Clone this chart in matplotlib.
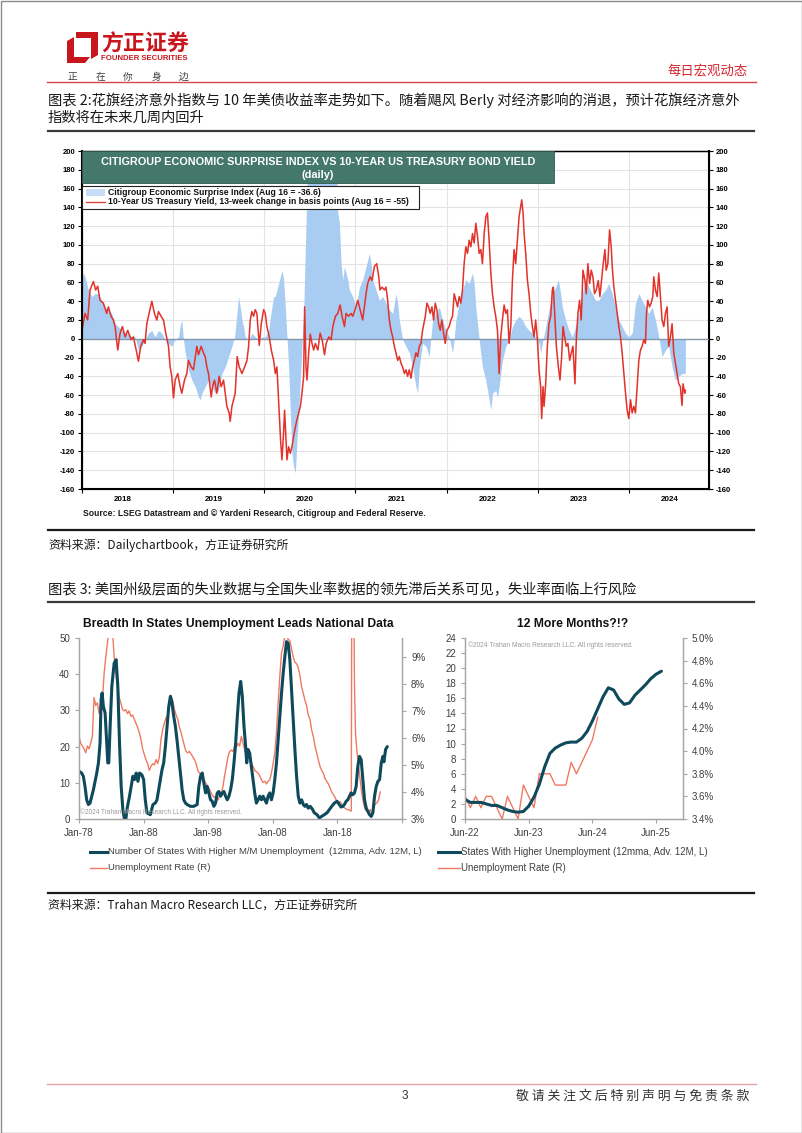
import matplotlib
matplotlib.use("Agg")
import matplotlib.pyplot as plt
from matplotlib.patches import Rectangle, Polygon
from matplotlib.lines import Line2D
import numpy as np

plt.rcParams['axes.unicode_minus'] = False

W, H = 802, 1133
CJK = ['Noto Sans CJK SC', 'DejaVu Sans']
SANS = ['Liberation Sans', 'DejaVu Sans']

# ---- chart 1: 10y yield 13-week change (bp), (decimal year, value)
yield_chg = [
    (2018.000, 9), (2018.033, 27), (2018.062, 20), (2018.088, 52), (2018.125, 61), (2018.150, 52),
    (2018.172, 56), (2018.198, 41), (2018.234, 38), (2018.271, 27), (2018.289, 34), (2018.319, 24),
    (2018.344, 20), (2018.363, 13), (2018.392, -12), (2018.418, 6), (2018.443, 13), (2018.473, 2),
    (2018.502, 9), (2018.538, -1), (2018.564, 2), (2018.601, -15), (2018.619, -24), (2018.645, -8),
    (2018.674, -1), (2018.692, -5), (2018.711, 16), (2018.736, 27), (2018.766, 40), (2018.795, 27),
    (2018.821, 20), (2018.839, 29), (2018.868, 24), (2018.894, 20), (2018.919, 6), (2018.949, -8),
    (2018.967, -30), (2018.985, -40), (2019.004, -63), (2019.022, -44), (2019.051, -37), (2019.077, -51),
    (2019.095, -58), (2019.125, -44), (2019.150, -37), (2019.168, -23), (2019.198, -30), (2019.223, -33),
    (2019.260, -8), (2019.278, -17), (2019.308, -8), (2019.333, -15), (2019.352, -19), (2019.370, -30),
    (2019.388, -37), (2019.418, -62), (2019.432, -51), (2019.454, -44), (2019.480, -58), (2019.505, -40),
    (2019.527, -51), (2019.553, -44), (2019.571, -58), (2019.590, -72), (2019.615, -79), (2019.626, -88),
    (2019.645, -72), (2019.663, -65), (2019.681, -58), (2019.703, -19), (2019.725, -30), (2019.755, -37),
    (2019.784, -30), (2019.810, -23), (2019.828, -8), (2019.846, 20), (2019.864, 29), (2019.883, 24),
    (2019.901, 31), (2019.919, 27), (2019.930, 13), (2019.945, -7), (2019.967, 16), (2019.993, 31),
    (2020.011, 27), (2020.029, 13), (2020.055, 2), (2020.077, -12), (2020.103, -23), (2020.121, -37),
    (2020.139, -30), (2020.150, -51), (2020.165, -79), (2020.179, -108), (2020.194, -129), (2020.212, -100),
    (2020.223, -76), (2020.238, -108), (2020.249, -129), (2020.267, -115), (2020.286, -122), (2020.304, -115),
    (2020.322, -104), (2020.341, -94), (2020.359, -86), (2020.377, -79), (2020.396, -72), (2020.414, -58),
    (2020.432, -40), (2020.443, 34), (2020.458, -30), (2020.469, -44), (2020.487, -15), (2020.505, 5),
    (2020.524, -5), (2020.542, -12), (2020.560, -5), (2020.588, -12), (2020.613, 6), (2020.635, -1),
    (2020.661, -17), (2020.679, -5), (2020.708, 2), (2020.734, -1), (2020.752, 13), (2020.781, 24),
    (2020.807, 27), (2020.832, 36), (2020.854, 24), (2020.880, 13), (2020.898, 27), (2020.927, 24),
    (2020.953, 27), (2020.971, 24), (2021.000, 32), (2021.026, 41), (2021.044, 34), (2021.062, 27),
    (2021.080, 20), (2021.099, 34), (2021.117, 48), (2021.135, 59), (2021.161, 66), (2021.183, 62),
    (2021.208, 77), (2021.234, 80), (2021.256, 66), (2021.270, 52), (2021.292, 55), (2021.318, 52),
    (2021.336, 55), (2021.354, 41), (2021.372, 20), (2021.391, 9), (2021.409, 2), (2021.427, -8),
    (2021.445, -15), (2021.464, -23), (2021.482, -19), (2021.500, -26), (2021.518, -30), (2021.537, -37),
    (2021.555, -33), (2021.573, -40), (2021.591, -33), (2021.610, -42), (2021.628, -30), (2021.646, -23),
    (2021.664, -15), (2021.683, -19), (2021.701, -8), (2021.719, -5), (2021.737, 9), (2021.767, 24),
    (2021.785, 38), (2021.803, 34), (2021.821, 27), (2021.840, 34), (2021.858, 20), (2021.876, 38),
    (2021.894, 31), (2021.913, 16), (2021.931, 9), (2021.949, 20), (2021.967, 6), (2021.986, -5),
    (2022.004, 9), (2022.029, 13), (2022.048, 20), (2022.066, 24), (2022.084, 48), (2022.102, 41),
    (2022.121, 34), (2022.139, 45), (2022.157, 38), (2022.175, 52), (2022.193, 80), (2022.212, 98),
    (2022.230, 91), (2022.248, 105), (2022.267, 98), (2022.285, 112), (2022.303, 102), (2022.321, 123),
    (2022.340, 109), (2022.358, 91), (2022.376, 95), (2022.394, 80), (2022.413, 112), (2022.431, 130),
    (2022.449, 134), (2022.467, 105), (2022.486, 70), (2022.504, 48), (2022.522, 34), (2022.540, 24),
    (2022.559, 9), (2022.577, -37), (2022.595, 2), (2022.613, 20), (2022.632, 36), (2022.650, 27),
    (2022.668, 31), (2022.686, -5), (2022.705, 13), (2022.723, 63), (2022.741, 95), (2022.759, 80),
    (2022.778, 105), (2022.796, 130), (2022.814, 141), (2022.825, 148), (2022.840, 134), (2022.851, 112),
    (2022.869, 91), (2022.887, 63), (2022.905, 48), (2022.924, 27), (2022.942, 13), (2022.960, 2),
    (2022.978, 20), (2022.997, -1), (2023.015, -33), (2023.033, -51), (2023.044, -85), (2023.059, -51),
    (2023.070, -72), (2023.088, -48), (2023.106, -8), (2023.124, 16), (2023.143, 24), (2023.161, 52),
    (2023.172, 55), (2023.190, 20), (2023.205, -8), (2023.227, -30), (2023.245, -44), (2023.263, -19),
    (2023.278, 13), (2023.296, 2), (2023.314, -8), (2023.332, -5), (2023.351, -23), (2023.369, -15),
    (2023.387, -8), (2023.409, -48), (2023.424, -1), (2023.442, 27), (2023.460, 41), (2023.478, 20),
    (2023.497, 73), (2023.519, 62), (2023.533, 48), (2023.551, 80), (2023.570, 59), (2023.588, 73),
    (2023.606, 66), (2023.624, 48), (2023.643, 52), (2023.665, 62), (2023.683, 45), (2023.701, 62),
    (2023.719, 80), (2023.738, 95), (2023.752, 73), (2023.770, 80), (2023.789, 116), (2023.807, 98),
    (2023.818, 77), (2023.836, 55), (2023.854, 41), (2023.873, 27), (2023.891, 13), (2023.909, 2),
    (2023.927, -15), (2023.946, -37), (2023.964, -58), (2023.982, -76), (2024.000, -85), (2024.019, -65),
    (2024.037, -79), (2024.055, -72), (2024.073, -79), (2024.092, -51), (2024.110, -23), (2024.128, -12),
    (2024.146, -8), (2024.165, -1), (2024.183, -5), (2024.194, 27), (2024.208, 41), (2024.227, 34),
    (2024.245, 38), (2024.263, 45), (2024.274, 66), (2024.292, 52), (2024.311, 45), (2024.329, 70),
    (2024.347, 45), (2024.365, 20), (2024.384, 13), (2024.402, 27), (2024.420, 34), (2024.438, -8),
    (2024.457, 2), (2024.475, 16), (2024.493, -15), (2024.511, -26), (2024.530, -37), (2024.548, -48),
    (2024.566, -51), (2024.584, -71), (2024.595, -48), (2024.614, -58), (2024.621, -55),
]

# ---- chart 1: Citigroup Economic Surprise Index
cesi = [
    (2018.000, 63), (2018.015, 70), (2018.033, 66), (2018.070, 52), (2018.106, 45), (2018.143, 48),
    (2018.179, 48), (2018.216, 41), (2018.253, 34), (2018.289, 31), (2018.326, 27), (2018.363, 16),
    (2018.399, 13), (2018.436, 9), (2018.473, 6), (2018.509, 6), (2018.546, 2), (2018.582, 2),
    (2018.619, -12), (2018.656, -8), (2018.692, -1), (2018.729, 6), (2018.766, 9), (2018.802, 2),
    (2018.839, 9), (2018.875, 6), (2018.912, -1), (2018.949, -5), (2018.985, -8), (2019.022, -1),
    (2019.059, 2), (2019.081, 16), (2019.095, 20), (2019.110, 2), (2019.132, -15), (2019.168, -33),
    (2019.205, -44), (2019.242, -51), (2019.278, -62), (2019.297, -65), (2019.315, -58), (2019.352, -51),
    (2019.388, -44), (2019.425, -51), (2019.462, -58), (2019.498, -55), (2019.535, -37), (2019.571, -30),
    (2019.608, -19), (2019.645, -8), (2019.674, 2), (2019.700, 27), (2019.718, 45), (2019.736, 34),
    (2019.755, 20), (2019.773, 13), (2019.791, 2), (2019.828, -1), (2019.864, 6), (2019.901, 2),
    (2019.938, -1), (2019.974, 2), (2020.011, 2), (2020.048, 9), (2020.084, 34), (2020.103, 45),
    (2020.121, 45), (2020.139, 52), (2020.158, 59), (2020.176, 66), (2020.194, 73), (2020.212, 63),
    (2020.231, 34), (2020.249, 2), (2020.267, -30), (2020.286, -79), (2020.304, -122), (2020.322, -136),
    (2020.341, -143), (2020.359, -108), (2020.377, -79), (2020.396, -44), (2020.414, -8), (2020.432, 27),
    (2020.451, 98), (2020.469, 160), (2020.487, 230), (2020.600, 250), (2020.700, 220), (2020.788, 200),
    (2020.807, 134), (2020.825, 123), (2020.843, 80), (2020.861, 63), (2020.880, 77), (2020.898, 70),
    (2020.916, 63), (2020.934, 52), (2020.971, 45), (2021.007, 34), (2021.044, 55), (2021.080, 63),
    (2021.117, 77), (2021.153, 91), (2021.172, 80), (2021.190, 63), (2021.226, 52), (2021.263, 41),
    (2021.299, 45), (2021.336, 38), (2021.372, 31), (2021.409, 27), (2021.445, 48), (2021.464, 38),
    (2021.482, 20), (2021.518, -1), (2021.555, -8), (2021.591, -15), (2021.628, -30), (2021.664, -51),
    (2021.683, -58), (2021.701, -30), (2021.737, -5), (2021.774, -8), (2021.810, -19), (2021.829, 2),
    (2021.847, 20), (2021.883, 27), (2021.920, 34), (2021.956, 20), (2021.993, 9), (2022.029, 2),
    (2022.066, -15), (2022.084, -1), (2022.102, 20), (2022.139, 38), (2022.175, 52), (2022.212, 63),
    (2022.248, 59), (2022.285, 70), (2022.303, 59), (2022.321, 34), (2022.340, 16), (2022.358, -1),
    (2022.394, -30), (2022.431, -44), (2022.467, -65), (2022.486, -76), (2022.504, -58), (2022.540, -55),
    (2022.559, -62), (2022.577, -51), (2022.613, -23), (2022.650, -8), (2022.686, -1), (2022.723, 13),
    (2022.759, 20), (2022.796, 24), (2022.832, 20), (2022.869, 13), (2022.905, 9), (2022.942, 6),
    (2022.978, 2), (2023.015, -5), (2023.033, -15), (2023.051, -5), (2023.088, 13), (2023.124, 31),
    (2023.161, 48), (2023.197, 55), (2023.227, 63), (2023.252, 48), (2023.270, 34), (2023.307, 20),
    (2023.343, 9), (2023.380, 2), (2023.416, 13), (2023.453, 27), (2023.489, 48), (2023.526, 63),
    (2023.562, 55), (2023.599, 48), (2023.635, 41), (2023.672, 41), (2023.708, 48), (2023.745, 52),
    (2023.781, 59), (2023.818, 48), (2023.854, 34), (2023.891, 20), (2023.927, 13), (2023.964, 6),
    (2024.000, 2), (2024.037, 6), (2024.073, 38), (2024.110, 48), (2024.146, 41), (2024.183, 34),
    (2024.219, 27), (2024.256, 34), (2024.292, 20), (2024.329, 2), (2024.365, -19), (2024.402, -12),
    (2024.438, -8), (2024.475, -30), (2024.511, -44), (2024.548, -40), (2024.584, -37), (2024.621, -36.6),
]
years1 = ['2018', '2019', '2020', '2021', '2022', '2023', '2024']

# ---- chart 2 left: states with higher M/M unemployment (adv 12M) and unemployment rate
states_long = [
    (1978.00, 13.2), (1978.41, 12.7), (1978.67, 11.8), (1978.93, 9.0), (1979.19, 5.3), (1979.45, 4.0),
    (1979.71, 4.4), (1979.97, 6.3), (1980.23, 8.1), (1980.49, 10.4), (1980.75, 12.7), (1981.01, 15.5),
    (1981.26, 21.0), (1981.42, 33.0), (1981.58, 34.8), (1981.78, 31.0), (1982.04, 29.3), (1982.30, 21.0),
    (1982.46, 15.5), (1982.61, 15.5), (1982.82, 25.6), (1983.08, 36.6), (1983.44, 43.0), (1983.75, 44.0),
    (1984.01, 36.6), (1984.27, 21.0), (1984.53, 9.0), (1984.79, 2.6), (1985.00, 0.3), (1985.25, 0.0),
    (1985.51, 3.5), (1985.82, 6.3), (1986.08, 9.0), (1986.34, 11.8), (1986.60, 10.9), (1986.86, 12.7),
    (1987.12, 10.4), (1987.38, 12.7), (1987.74, 12.2), (1988.00, 10.9), (1988.26, 5.3), (1988.52, 1.7),
    (1989.04, 1.2), (1989.45, 4.0), (1989.81, 4.4), (1990.07, 5.3), (1990.33, 8.1), (1990.59, 10.9),
    (1990.85, 13.6), (1991.11, 15.5), (1991.37, 20.0), (1991.63, 25.6), (1991.89, 31.0), (1992.15, 33.9),
    (1992.40, 32.0), (1992.66, 28.4), (1992.92, 25.6), (1993.18, 21.7), (1993.44, 17.3), (1993.70, 12.7),
    (1993.96, 8.1), (1994.22, 5.3), (1994.48, 4.4), (1994.74, 4.0), (1995.25, 3.5), (1995.77, 3.5),
    (1996.29, 4.0), (1996.55, 9.0), (1996.81, 11.8), (1997.07, 12.7), (1997.33, 9.9), (1997.59, 7.2),
    (1997.84, 9.0), (1998.10, 7.2), (1998.36, 5.3), (1998.62, 4.9), (1998.88, 3.5), (1999.14, 4.4),
    (1999.40, 7.2), (1999.66, 7.6), (1999.92, 6.3), (2000.18, 7.2), (2000.44, 7.6), (2000.69, 6.3),
    (2000.95, 5.3), (2001.21, 6.3), (2001.47, 8.1), (2001.73, 10.9), (2001.99, 15.5), (2002.25, 21.0),
    (2002.51, 28.4), (2002.77, 34.8), (2003.03, 38.0), (2003.28, 33.9), (2003.54, 25.6), (2003.80, 20.0),
    (2003.96, 15.5), (2004.17, 19.2), (2004.42, 18.2), (2004.68, 14.5), (2004.94, 10.9), (2005.20, 7.2),
    (2005.46, 4.4), (2005.72, 5.3), (2005.98, 6.3), (2006.24, 5.3), (2006.50, 6.3), (2006.76, 5.3),
    (2007.02, 4.4), (2007.27, 6.3), (2007.53, 7.2), (2007.79, 5.3), (2008.05, 7.2), (2008.31, 10.9),
    (2008.57, 15.5), (2008.83, 21.9), (2009.09, 28.4), (2009.35, 34.8), (2009.61, 40.3), (2009.87, 45.0),
    (2010.13, 49.0), (2010.38, 48.6), (2010.64, 44.0), (2010.90, 35.7), (2011.16, 27.4), (2011.42, 19.2),
    (2011.68, 11.8), (2011.94, 6.3), (2012.20, 4.4), (2012.46, 5.3), (2012.72, 4.0), (2012.97, 3.5),
    (2013.23, 4.0), (2013.49, 3.0), (2013.80, 3.5), (2014.17, 2.6), (2014.42, 1.7), (2014.84, 1.2),
    (2015.20, 0.3), (2015.56, 0.7), (2015.98, 1.2), (2016.39, 1.7), (2016.76, 2.6), (2017.12, 3.5),
    (2017.53, 4.4), (2017.95, 4.9), (2018.31, 4.0), (2018.57, 3.3), (2018.83, 3.5), (2019.09, 4.0),
    (2019.35, 4.9), (2019.61, 5.3), (2019.87, 6.3), (2020.12, 7.2), (2020.38, 6.7), (2020.64, 7.2),
    (2020.90, 9.0), (2021.16, 14.5), (2021.42, 17.3), (2021.68, 16.4), (2021.94, 10.9), (2022.20, 5.3),
    (2022.46, 3.0), (2022.72, 2.1), (2022.97, 1.2), (2023.23, 0.7), (2023.49, 1.7), (2023.75, 6.3),
    (2024.01, 9.0), (2024.27, 10.4), (2024.53, 10.9), (2024.79, 15.5), (2025.05, 17.3), (2025.20, 15.8),
    (2025.46, 19.2), (2025.72, 20.0),
]
urate_long = [
    (1978.00, 6.06), (1978.26, 5.80), (1978.52, 5.70), (1978.78, 5.60), (1979.04, 5.45), (1979.30, 5.70),
    (1979.55, 5.60), (1979.81, 5.80), (1980.07, 6.06), (1980.33, 7.50), (1980.59, 7.20), (1980.85, 7.30),
    (1981.11, 6.90), (1981.37, 7.30), (1981.63, 7.40), (1981.89, 8.40), (1982.15, 9.00), (1982.40, 9.50),
    (1982.66, 10.2), (1982.92, 10.4), (1983.18, 10.0), (1983.44, 9.00), (1983.70, 8.40), (1983.96, 7.90),
    (1984.22, 7.50), (1984.48, 7.30), (1984.74, 7.05), (1985.00, 7.00), (1985.25, 7.05), (1985.51, 6.90),
    (1985.77, 7.00), (1986.03, 6.80), (1986.29, 6.85), (1986.55, 6.70), (1986.81, 6.55), (1987.07, 6.40),
    (1987.33, 6.20), (1987.59, 5.95), (1987.84, 5.60), (1988.10, 5.40), (1988.36, 5.20), (1988.62, 5.05),
    (1988.88, 4.80), (1989.14, 4.95), (1989.40, 5.05), (1989.66, 5.00), (1989.92, 5.20), (1990.18, 5.05),
    (1990.44, 5.30), (1990.69, 5.95), (1990.95, 6.30), (1991.21, 6.55), (1991.47, 6.75), (1991.73, 6.80),
    (1991.99, 7.30), (1992.25, 7.55), (1992.51, 7.40), (1992.77, 7.05), (1993.03, 6.85), (1993.28, 6.70),
    (1993.54, 6.40), (1993.80, 6.20), (1994.06, 5.95), (1994.32, 5.70), (1994.58, 5.50), (1994.84, 5.45),
    (1995.10, 5.50), (1995.36, 5.40), (1995.62, 5.30), (1995.88, 5.20), (1996.13, 5.05), (1996.39, 4.80),
    (1996.65, 4.70), (1996.91, 4.60), (1997.17, 4.45), (1997.43, 4.40), (1997.69, 4.30), (1997.95, 4.20),
    (1998.21, 4.10), (1998.47, 3.95), (1998.73, 3.85), (1998.98, 3.80), (1999.24, 3.85), (1999.50, 3.70),
    (1999.76, 3.85), (2000.02, 3.90), (2000.28, 4.20), (2000.54, 4.60), (2000.80, 4.95), (2001.06, 5.30),
    (2001.32, 5.50), (2001.58, 5.55), (2001.84, 5.50), (2002.09, 5.70), (2002.35, 5.65), (2002.61, 5.80),
    (2002.87, 5.70), (2003.13, 6.06), (2003.39, 5.80), (2003.65, 5.55), (2003.91, 5.30), (2004.17, 5.40),
    (2004.42, 5.20), (2004.68, 5.05), (2004.94, 4.95), (2005.20, 4.80), (2005.46, 4.75), (2005.72, 4.70),
    (2005.98, 4.60), (2006.24, 4.45), (2006.50, 4.35), (2006.76, 4.40), (2007.02, 4.30), (2007.27, 4.40),
    (2007.53, 4.45), (2007.79, 4.70), (2008.05, 5.05), (2008.31, 5.45), (2008.57, 6.20), (2008.83, 7.30),
    (2009.09, 8.30), (2009.35, 9.15), (2009.61, 9.40), (2009.87, 9.80), (2010.13, 9.80), (2010.38, 9.65),
    (2010.64, 9.60), (2010.90, 9.30), (2011.16, 9.00), (2011.42, 8.80), (2011.68, 8.75), (2011.94, 8.60),
    (2012.20, 8.30), (2012.46, 7.90), (2012.72, 7.65), (2012.97, 7.40), (2013.23, 7.20), (2013.49, 6.85),
    (2013.75, 6.70), (2014.01, 6.30), (2014.27, 6.06), (2014.53, 5.70), (2014.79, 5.45), (2015.05, 5.20),
    (2015.30, 4.95), (2015.56, 4.80), (2015.82, 4.70), (2016.08, 4.50), (2016.34, 4.40), (2016.60, 4.30),
    (2016.86, 4.15), (2017.12, 4.00), (2017.38, 3.90), (2017.64, 3.80), (2017.90, 3.65), (2018.16, 3.55),
    (2018.41, 3.65), (2018.67, 3.55), (2018.93, 3.45), (2019.19, 3.40), (2019.45, 3.35), (2019.71, 3.35),
    (2019.97, 3.30), (2020.15, 3.30), (2020.25, 14.7), (2020.42, 13.0), (2020.55, 11.0), (2020.64, 8.05),
    (2020.80, 6.20), (2021.01, 5.55), (2021.27, 4.95), (2021.53, 4.45), (2021.78, 3.95), (2022.04, 3.60),
    (2022.30, 3.35), (2022.56, 3.30), (2022.82, 3.20), (2023.08, 3.35), (2023.34, 3.20), (2023.60, 3.40),
    (2023.86, 3.55), (2024.12, 3.60), (2024.37, 3.70), (2024.63, 4.00),
]
decade_labels = ['Jan-78', 'Jan-88', 'Jan-98', 'Jan-08', 'Jan-18']

# ---- chart 2 right: monthly from Jun-22
states_recent = [2.6, 2.2, 2.2, 2.2, 2.0, 1.8, 1.8, 1.5, 1.2, 1.0, 0.9, 1.0, 1.7, 2.9, 4.6, 6.9,
                 8.7, 9.4, 9.8, 10.1, 10.2, 10.2, 10.7, 11.6, 13.0, 14.6, 16.2, 17.4, 17.1, 15.9,
                 15.2, 15.4, 16.4, 17.1, 17.8, 18.6, 19.2, 19.6]
urate_recent = [3.6, 3.5, 3.6, 3.5, 3.6, 3.6, 3.5, 3.4, 3.6, 3.5, 3.4, 3.7, 3.6, 3.5, 3.8, 3.8,
                3.8, 3.7, 3.7, 3.7, 3.9, 3.8, 3.9, 4.0, 4.1, 4.3]
june_labels = ['Jun-22', 'Jun-23', 'Jun-24', 'Jun-25']

TEAL = '#0e4a5c'
ORANGE = '#ee7a62'

fig = plt.figure(figsize=(W / 100, H / 100), dpi=100)


def box(x0, y0, x1, y1):
    return [x0 / W, 1 - y1 / H, (x1 - x0) / W, (y1 - y0) / H]


def ftext(x, y, s, **kw):
    return fig.text(x / W, 1 - y / H, s, **kw)


def hline(x0, x1, y, **kw):
    fig.add_artist(Line2D([x0 / W, x1 / W], [1 - y / H, 1 - y / H], transform=fig.transFigure, **kw))


def frect(x0, y0, x1, y1, **kw):
    fig.add_artist(Rectangle((x0 / W, 1 - y1 / H), (x1 - x0) / W, (y1 - y0) / H,
                             transform=fig.transFigure, **kw))


# page frame
frect(0.5, 0.5, W - 0.5, H - 0.5, fill=False, edgecolor='#8c8c8c', lw=1, zorder=10)

# ---- header
logo_red = '#c8161d'
fig.add_artist(Polygon([(76 / W, 1 - 32 / H), (98 / W, 1 - 32 / H), (98 / W, 1 - 55 / H),
                        (91 / W, 1 - 59 / H), (91 / W, 1 - 38 / H), (76 / W, 1 - 38 / H)],
                       closed=True, transform=fig.transFigure, color=logo_red, lw=0))
fig.add_artist(Polygon([(67 / W, 1 - 41 / H), (74 / W, 1 - 37 / H), (74 / W, 1 - 57 / H),
                        (90 / W, 1 - 57 / H), (85 / W, 1 - 63 / H), (67 / W, 1 - 63 / H)],
                       closed=True, transform=fig.transFigure, color=logo_red, lw=0))
ftext(101, 44, '方正证券', family=CJK, fontsize=15.8, fontweight='bold', color=logo_red, va='center')
ftext(101, 59, 'FOUNDER SECURITIES', family=SANS, fontsize=5.6, fontweight='bold', color=logo_red, va='center')
for i, ch in enumerate('正在你身边'):
    ftext(72 + i * 28, 77, ch, family=CJK, fontsize=7, color='#404040', ha='center', va='center')
ftext(748, 70, '每日宏观动态', family=CJK, fontsize=9.6, color='#d6262e', ha='right', va='center')
hline(47, 756, 82, color='#d9434c', lw=1.0)

ftext(48, 100, '图表 2:花旗经济意外指数与 10 年美债收益率走势如下。随着飓风 Berly 对经济影响的消退，预计花旗经济意外',
      family=CJK, fontsize=10.3, color='#1a1a1a', va='center')
ftext(48, 118, '指数将在未来几周内回升', family=CJK, fontsize=10.3, color='#1a1a1a', va='center')
hline(48, 754, 131, color='#3a3a3a', lw=1.6)

# ---- chart 1
ax1 = fig.add_axes(box(82, 151, 709, 489))
t1, v1 = zip(*cesi)
ty, vy = zip(*yield_chg)
ax1.fill_between(t1, v1, 0, color='#a9cdf2', lw=0, zorder=2)
ax1.axhline(0, color='#8597ab', lw=1.0, zorder=3)
ax1.plot(ty, vy, color='#e2322a', lw=1.1, zorder=4)
ax1.set_xlim(2018, 2024.88)
ax1.set_ylim(-160, 200)
ticks1 = np.arange(-160, 201, 20)
ax1.set_yticks(ticks1)
ax1.set_xticks(range(2018, 2025))
ax1.set_xticklabels([])
ax1.set_xticks([int(y) + 0.45 for y in years1], minor=True)
ax1.set_xticklabels(years1, minor=True)
ax1.grid(True, which='major', color='#e3e3e3', lw=0.8, zorder=0)
ax1.set_axisbelow(True)
ax1.tick_params(axis='x', which='major', length=3, width=0.8, direction='out')
ax1.tick_params(axis='x', which='minor', length=0, pad=5, labelsize=5.8)
ax1.tick_params(axis='y', length=3, width=0.8, labelsize=5.5, pad=2)
for s in ax1.spines.values():
    s.set_color('black')
ax1.spines['left'].set_linewidth(1.5)
ax1.spines['bottom'].set_linewidth(1.5)
ax1.spines['right'].set_linewidth(1.5)
ax1.spines['top'].set_linewidth(1.0)
ax1r = ax1.twinx()
ax1r.set_ylim(-160, 200)
ax1r.set_yticks(ticks1)
ax1r.tick_params(axis='y', length=3, width=0.8, labelsize=5.5, pad=2)
for lab in ax1.get_yticklabels() + ax1r.get_yticklabels() + ax1.get_xticklabels(minor=True):
    lab.set_fontweight('bold')
    lab.set_family(SANS)

frect(82, 151, 554, 183, facecolor='#43786a', edgecolor='#2f5a4f', lw=0.6, zorder=5)
ftext(318, 162, 'CITIGROUP ECONOMIC SURPRISE INDEX VS 10-YEAR US TREASURY BOND YIELD', family=SANS,
      fontsize=7.8, fontweight='bold', color='white', ha='center', va='center', zorder=6)
ftext(318, 175, '(daily)', family=SANS, fontsize=7.8, fontweight='bold', color='white',
      ha='center', va='center', zorder=6)
frect(82, 186, 419, 209, facecolor='white', edgecolor='#222222', lw=0.8, zorder=5)
frect(86, 189, 105, 196, facecolor='#c5ddf5', edgecolor='none', zorder=6)
fig.add_artist(Line2D([86 / W, 105 / W], [1 - 202 / H] * 2, transform=fig.transFigure,
                      color='#d9483e', lw=1.0, zorder=6))
ftext(108, 192.5, 'Citigroup Economic Surprise Index (Aug 16 = -36.6)', family=SANS, fontsize=6.2,
      fontweight='bold', color='#111111', va='center', zorder=6)
ftext(108, 202, '10-Year US Treasury Yield, 13-week change in basis points (Aug 16 = -55)', family=SANS,
      fontsize=6.2, fontweight='bold', color='#111111', va='center', zorder=6)
ftext(83, 513, 'Source: LSEG Datastream and \u00a9 Yardeni Research, Citigroup and Federal Reserve.',
      family=SANS, fontsize=6.2, fontweight='bold', color='#1a1a1a', va='center')

hline(48, 754, 530, color='#1a1a1a', lw=1.6)
ftext(48, 545, '资料来源：Dailychartbook，方正证券研究所', family=CJK, fontsize=8.6, color='#1a1a1a', va='center')
ftext(48, 590, '图表 3: 美国州级层面的失业数据与全国失业率数据的领先滞后关系可见，失业率面临上行风险',
      family=CJK, fontsize=10.3, color='#1a1a1a', va='center')
hline(48, 754, 602, color='#3a3a3a', lw=1.6)

GRAY_AX = '#a6a6a6'
LAB = '#3f3f3f'


def style_pair(ax, axr):
    for a in (ax, axr):
        for side in ('left', 'bottom', 'right'):
            a.spines[side].set_color(GRAY_AX)
            a.spines[side].set_linewidth(0.9)
        a.spines['top'].set_visible(False)
        a.tick_params(colors=GRAY_AX, labelcolor=LAB, labelsize=7, length=3, width=0.8)
        for lab in a.get_xticklabels() + a.get_yticklabels():
            lab.set_family(SANS)
    ax.set_zorder(axr.get_zorder() + 1)
    ax.patch.set_visible(False)


# ---- chart 2 left
ax2 = fig.add_axes(box(79, 638, 402, 819))
ax2r = ax2.twinx()
ts, vs = zip(*states_long)
tu, vu = zip(*urate_long)
ax2r.plot(tu, vu, color=ORANGE, lw=1.0)
ax2.plot(ts, vs, color=TEAL, lw=2.2, solid_capstyle='round')
ax2.set_xlim(1978, 2028)
ax2.set_ylim(0, 50)
ax2r.set_ylim(3, 9.70)
ax2.set_yticks(range(0, 51, 10))
ax2r.set_yticks(range(3, 10))
ax2r.set_yticklabels([f'{v}%' for v in range(3, 10)])
ax2.set_xticks([1978, 1988, 1998, 2008, 2018, 2028])
ax2.set_xticklabels(decade_labels + [''])
style_pair(ax2, ax2r)
ftext(238, 624, 'Breadth In States Unemployment Leads National Data', family=SANS, fontsize=8.7,
      fontweight='bold', color='#111111', ha='center', va='center')
ftext(80, 812, '\u00a92024 Trahan Macro Research LLC. All rights reserved.', family=SANS, fontsize=4.7,
      color='#9a9a9a', va='center', zorder=6)
hline(90, 107, 852, color=TEAL, lw=2.2)
ftext(108, 852, 'Number Of States With Higher M/M Unemployment  (12mma, Adv. 12M, L)', family=SANS,
      fontsize=6.8, color=LAB, va='center')
hline(90, 107, 868, color=ORANGE, lw=1.0)
ftext(108, 868, 'Unemployment Rate (R)', family=SANS, fontsize=6.8, color=LAB, va='center')

# ---- chart 2 right
ax3 = fig.add_axes(box(465, 638, 683, 819))
ax3r = ax3.twinx()
ax3r.plot(range(len(urate_recent)), urate_recent, color=ORANGE, lw=1.0)
ax3.plot(range(len(states_recent)), states_recent, color=TEAL, lw=2.2, solid_capstyle='round')
ax3.set_xlim(0, 41.07)
ax3.set_ylim(0, 24)
ax3r.set_ylim(3.4, 5.0)
ax3.set_yticks(range(0, 25, 2))
ax3r.set_yticks(np.arange(3.4, 5.01, 0.2))
ax3r.set_yticklabels([f'{v:.1f}%' for v in np.arange(3.4, 5.01, 0.2)])
ax3.set_xticks([0, 12, 24, 36])
ax3.set_xticklabels(june_labels)
style_pair(ax3, ax3r)
ftext(573, 624, '12 More Months?!?', family=SANS, fontsize=8.7, fontweight='bold', color='#111111',
      ha='center', va='center')
ftext(468, 645, '\u00a92024 Trahan Macro Research LLC. All rights reserved.', family=SANS, fontsize=4.8,
      color='#9a9a9a', va='center', zorder=6)
hline(438, 460, 852, color=TEAL, lw=2.2)
ftext(461, 852, 'States With Higher Unemployment (12mma, Adv. 12M, L)', family=SANS, fontsize=7.0,
      color=LAB, va='center')
hline(438, 460, 868, color=ORANGE, lw=1.0)
ftext(461, 868, 'Unemployment Rate (R)', family=SANS, fontsize=7.0, color=LAB, va='center')

hline(48, 754, 893, color='#1a1a1a', lw=1.6)
ftext(48, 905, '资料来源：Trahan Macro Research LLC，方正证券研究所', family=CJK, fontsize=8.6,
      color='#1a1a1a', va='center')

# ---- footer
hline(47, 756, 1084, color='#e8a1ad', lw=1.0)
ftext(405, 1096, '3', family=SANS, fontsize=8.5, color='#333333', ha='center', va='center')
ftext(749, 1096, ' '.join('敬请关注文后特别声明与免责条款'), family=CJK, fontsize=9.3, color='#333333',
      ha='right', va='center')

fig.savefig('out.png', dpi=100)
